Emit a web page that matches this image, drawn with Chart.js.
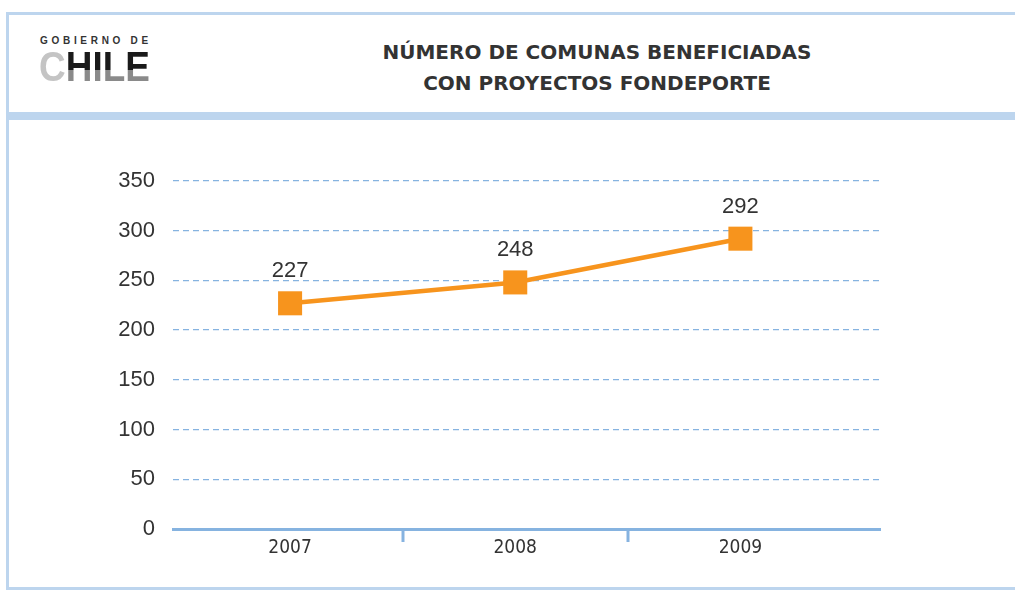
<!DOCTYPE html>
<html lang="es">
<head>
    <meta charset="UTF-8">
    <title>Número de comunas beneficiadas</title>
    <script src="https://cdn.jsdelivr.net/npm/chart.js"></script>
    <style>
        body { margin: 0; width: 1015px; height: 591px; position: relative; background: #fff; overflow: hidden; font-family: "Liberation Sans", Arial, sans-serif; }
        .frame-top { position: absolute; left: 6px; top: 12px; right: 0; height: 3px; background: #bdd5ee; }
        .frame-left { position: absolute; left: 6px; top: 12px; width: 3px; bottom: 1px; background: #bdd5ee; }
        .frame-band { position: absolute; left: 6px; top: 112px; right: 0; height: 8px; background: #bdd5ee; }
        .frame-bottom { position: absolute; left: 6px; top: 587px; right: 0; height: 3px; background: #bdd5ee; }
        .logo-small { position: absolute; left: 40px; top: 35px; font-size: 10px; font-weight: bold; letter-spacing: 3.7px; color: #333; }
        .logo-big { position: absolute; left: 39px; top: 44px; font-size: 42px; font-weight: bold; line-height: 46px; transform: scaleX(0.88); transform-origin: left top; }
        .logo-big .c { color: #c4c4c4; }
        .logo-big .r { background: linear-gradient(#1a1a1a 0%, #1a1a1a 58%, #8a8a8a 58%, #8a8a8a 100%); -webkit-background-clip: text; background-clip: text; color: transparent; }
        .title { position: absolute; left: 297px; width: 600px; top: 37px; text-align: center; font-family: "DejaVu Sans", sans-serif; font-weight: bold; font-size: 20px; line-height: 31px; color: #333; }
        #wrap { position: absolute; left: 0; top: 0; width: 1015px; height: 591px; }
    </style>
</head>
<body>
    <div class="frame-top"></div>
    <div class="frame-left"></div>
    <div class="frame-band"></div>
    <div class="frame-bottom"></div>
    <div class="logo-small">GOBIERNO DE</div>
    <div class="logo-big"><span class="c">C</span><span class="r">HILE</span></div>
    <div class="title">NÚMERO DE COMUNAS BENEFICIADAS<br>CON PROYECTOS FONDEPORTE</div>
    <div id="wrap"><canvas id="chart"></canvas></div>

    <script>
        // datos
        const years = [2007, 2008, 2009];
        const comunas = [227, 248, 292];
        const yTicks = [0, 50, 100, 150, 200, 250, 300, 350];

        const orange = '#f7941d';
        const blue = '#86b3e0';

        // valor encima de cada punto
        const valueLabels = {
            id: 'valueLabels',
            afterDatasetsDraw(chart) {
                const ctx = chart.ctx;
                const meta = chart.getDatasetMeta(0);
                ctx.save();
                ctx.font = '22px "Liberation Sans", Arial, sans-serif';
                ctx.fillStyle = '#333';
                ctx.textAlign = 'center';
                ctx.textBaseline = 'bottom';
                meta.data.forEach((pt, i) => {
                    ctx.fillText(String(comunas[i]), pt.x, pt.y - 21);
                });
                ctx.restore();
            }
        };

        // marcas separadoras entre años en el eje x
        const separators = {
            id: 'separators',
            afterDraw(chart) {
                const ctx = chart.ctx;
                const x = chart.scales.x;
                const bottom = chart.chartArea.bottom;
                ctx.save();
                ctx.strokeStyle = blue;
                ctx.lineWidth = 3;
                for (let i = 0; i < years.length - 1; i++) {
                    const px = Math.round(x.getPixelForValue((years[i] + years[i + 1]) / 2));
                    ctx.beginPath();
                    ctx.moveTo(px, bottom);
                    ctx.lineTo(px, bottom + 13);
                    ctx.stroke();
                }
                ctx.restore();
            }
        };

        new Chart(document.getElementById('chart').getContext('2d'), {
            type: 'line',
            data: {
                datasets: [{
                    data: years.map((y, i) => ({ x: y, y: comunas[i] })),
                    borderColor: orange,
                    backgroundColor: orange,
                    borderWidth: 4.5,
                    tension: 0,
                    pointStyle: 'rect',
                    pointRadius: 17,
                    pointBorderWidth: 0,
                    pointHoverRadius: 17
                }]
            },
            options: {
                responsive: true,
                maintainAspectRatio: false,
                animation: false,
                events: [],
                layout: { padding: { top: 181, right: 135, bottom: 0, left: 0 } },
                plugins: {
                    legend: { display: false },
                    tooltip: { enabled: false }
                },
                scales: {
                    x: {
                        type: 'linear',
                        min: 2006.48,
                        max: 2009.62,
                        afterBuildTicks: (s) => { s.ticks = years.map(v => ({ value: v })); },
                        afterFit: (s) => { s.height = 62; },
                        grid: { display: false, drawTicks: false },
                        border: { display: true, color: blue, width: 3 },
                        ticks: {
                            padding: 8,
                            color: '#333',
                            font: { family: '"Liberation Sans Narrow", "DejaVu Sans Condensed", sans-serif', size: 19 },
                            callback: (v) => String(v)
                        }
                    },
                    y: {
                        min: 0,
                        max: 350,
                        afterBuildTicks: (s) => { s.ticks = yTicks.map(v => ({ value: v })); },
                        afterFit: (s) => { s.width = 173; },
                        grid: { color: blue, lineWidth: 1.3, drawTicks: false },
                        border: { display: false, dash: [6, 4] },
                        ticks: {
                            padding: 18,
                            color: '#333',
                            font: { family: '"Liberation Sans", Arial, sans-serif', size: 22 }
                        }
                    }
                }
            },
            plugins: [valueLabels, separators]
        });
    </script>
</body>
</html>
